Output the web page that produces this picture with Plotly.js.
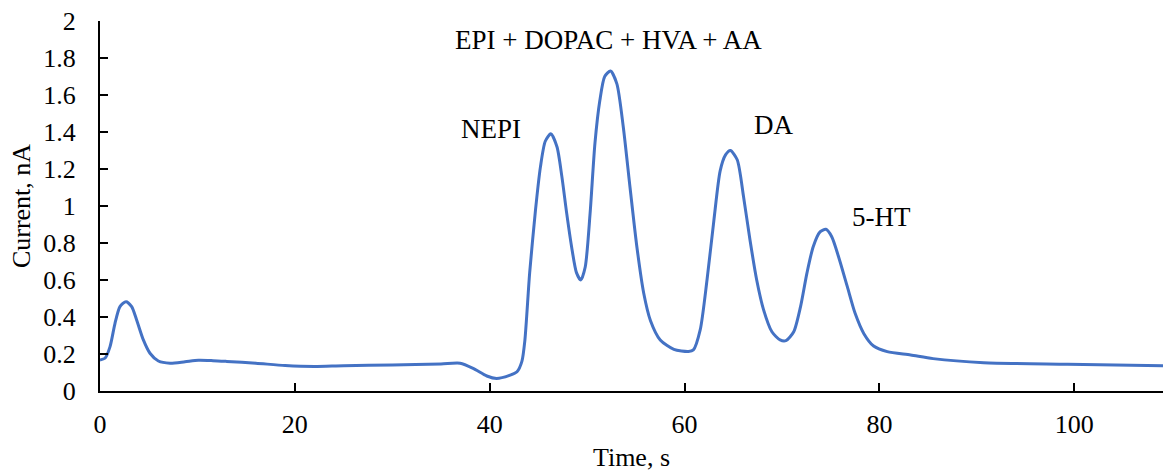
<!DOCTYPE html>
<html>
<head>
<meta charset="utf-8">
<script src="https://cdn.plot.ly/plotly-3.0.1.min.js"></script>
<style>html,body{margin:0;padding:0;background:#fff;}#chart{width:1164px;height:473px;}</style>
</head>
<body>
<div id="chart"></div>
<script>
const time = [0, 0.51, 1.03, 1.54, 2.05, 2.67, 3.25, 3.76, 4.45, 5.13, 5.99, 7.19, 8.73, 10.1, 11.6, 13, 16, 19, 22, 25, 30, 35, 36.96, 38.3, 39.7, 40.7, 42.1, 42.8, 43.3, 43.6, 44.1, 44.7, 45.2, 45.7, 46.27, 46.9, 47.4, 47.9, 48.4, 48.9, 49.35, 49.8, 50.3, 50.8, 51.3, 51.8, 52.4, 53.05, 53.7, 54.4, 55.1, 55.8, 56.5, 57.5, 58.9, 60.4, 60.9, 61.6, 62.3, 63.0, 63.65, 64.2, 64.7, 65.4, 66.05, 66.7, 67.4, 68.1, 68.96, 69.8, 70.4, 71.2, 71.9, 72.55, 73.2, 73.9, 74.5, 75.1, 75.8, 76.7, 77.5, 78.4, 79.4, 80.8, 83.2, 85.5, 90.7, 99.3, 109.1];
const current = [0.168, 0.177, 0.24, 0.366, 0.456, 0.483, 0.456, 0.384, 0.276, 0.204, 0.162, 0.15, 0.158, 0.166, 0.164, 0.16, 0.15, 0.138, 0.133, 0.137, 0.14, 0.146, 0.15, 0.122, 0.081, 0.068, 0.086, 0.104, 0.16, 0.27, 0.64, 0.98, 1.21, 1.35, 1.39, 1.32, 1.16, 0.96, 0.78, 0.64, 0.60, 0.67, 0.96, 1.34, 1.57, 1.70, 1.73, 1.66, 1.43, 1.10, 0.78, 0.53, 0.38, 0.276, 0.225, 0.214, 0.222, 0.33, 0.60, 0.92, 1.19, 1.276, 1.30, 1.25, 1.05, 0.82, 0.60, 0.44, 0.32, 0.276, 0.272, 0.32, 0.456, 0.636, 0.78, 0.86, 0.874, 0.834, 0.726, 0.564, 0.42, 0.31, 0.243, 0.213, 0.195, 0.175, 0.153, 0.145, 0.137];
const peakLabels = ["EPI + DOPAC + HVA + AA", "NEPI", "DA", "5-HT"];
const peakLabelX = [52.2, 40.1, 69.1, 80.2];
const peakLabelY = [1.9, 1.415, 1.44, 0.94];
const xTicks = [0, 20, 40, 60, 80, 100];
const yTicks = [0, 0.2, 0.4, 0.6, 0.8, 1, 1.2, 1.4, 1.6, 1.8, 2];
const yTickText = ["0", "0.2", "0.4", "0.6", "0.8", "1", "1.2", "1.4", "1.6", "1.8", "2"];

const font = {family: "Liberation Serif, Times New Roman, serif", size: 26, color: "#000"};
const annFont = {family: "Liberation Serif, Times New Roman, serif", size: 27, color: "#000"};

const trace = {
  x: time, y: current, type: "scatter", mode: "lines",
  line: {color: "#4472C4", width: 3, shape: "spline", smoothing: 0.7},
  hoverinfo: "skip"
};

const annotations = peakLabels.map((t, i) => ({
  x: peakLabelX[i], y: peakLabelY[i], xref: "x", yref: "y",
  text: t, showarrow: false, font: annFont
}));

const layout = {
  width: 1164, height: 473,
  margin: {l: 100, r: 1, t: 21, b: 82},
  paper_bgcolor: "#fff", plot_bgcolor: "#fff",
  showlegend: false,
  font: font,
  xaxis: {
    range: [0, 109.1], tickvals: xTicks, ticks: "inside", ticklen: 8, tickwidth: 2,
    tickcolor: "#000", showline: true, linecolor: "#000", linewidth: 2,
    showgrid: false, zeroline: false, ticklabelstandoff: 9,
    tickfont: font, automargin: false,
    title: {text: "Time, s", font: font, standoff: 10}
  },
  yaxis: {
    range: [0, 2], tickvals: yTicks, ticktext: yTickText, ticks: "inside", ticklen: 8, tickwidth: 2,
    tickcolor: "#000", showline: true, linecolor: "#000", linewidth: 2,
    showgrid: false, zeroline: false, ticklabelstandoff: 17,
    tickfont: font, automargin: false,
    title: {text: "Current, nA", font: font, standoff: 5}
  },
  annotations: annotations
};

Plotly.newPlot("chart", [trace], layout, {displayModeBar: false, staticPlot: true});
</script>
</body>
</html>
